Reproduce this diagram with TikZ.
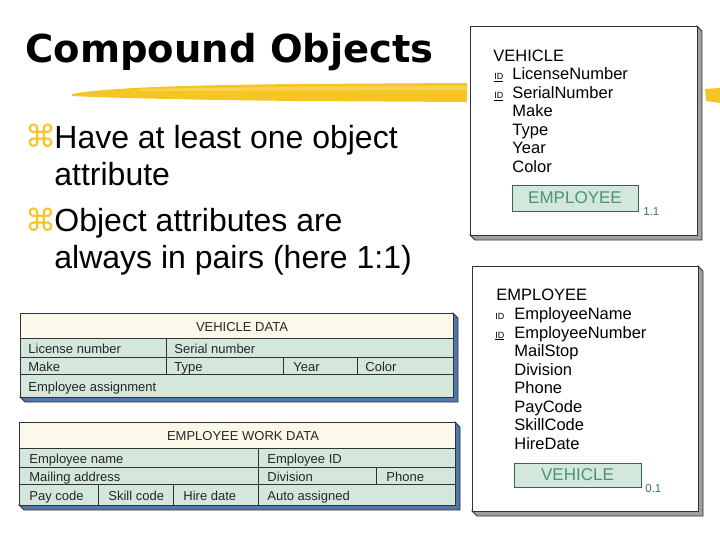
\documentclass[tikz,border=0pt]{standalone}
\usepackage{fontspec}
\setmainfont{Liberation Sans}
\newfontfamily\symfont{DejaVu Sans}
\usetikzlibrary{positioning, calc}
\definecolor{cyellow}{HTML}{F5C524}
\definecolor{cyellowlt}{HTML}{FADB6A}
\definecolor{cblue}{HTML}{5077AE}
\definecolor{cgreen}{HTML}{D4E7DC}
\definecolor{ccream}{HTML}{FCF9EA}
\definecolor{cteal}{HTML}{4A927A}
\definecolor{cline}{HTML}{333333}
\definecolor{cshade}{HTML}{A0A0A0}
\tikzset{
  every picture/.style={line width=0.8pt},
  title/.style={anchor=base west, inner sep=0pt, font=\symfont\bfseries\fontsize{38.5}{42}\selectfont},
  bullet/.style={anchor=base west, inner sep=0pt, text=cyellow, font=\symfont\fontsize{31}{34}\selectfont},
  point/.style={anchor=base west, inner sep=0pt, font=\fontsize{32}{36}\selectfont},
  cell/.style={anchor=west, inner sep=0pt, text height=14pt, text depth=2.5pt, text=black!85, font=\fontsize{13}{15}\selectfont},
  attr/.style={anchor=base west, inner sep=0pt, font=\fontsize{16.5}{18}\selectfont},
  idmark/.style={anchor=base west, inner sep=0pt, font=\fontsize{9}{10}\selectfont},
  refbox/.style={draw=cteal!70!black, fill=cgreen, inner sep=0pt, text=cteal, font=\fontsize{17}{19}\selectfont},
  degree/.style={anchor=base west, inner sep=0pt, text=cteal!80!black, font=\fontsize{11.5}{13}\selectfont},
}

\begin{document}
\begin{tikzpicture}[x=1pt, y=-1pt]
  \useasboundingbox (0,0) rectangle (720,540);
  % brush stroke under the title
  \fill[cyellow] (72,94) .. controls (110,87) and (200,85) .. (300,84) -- (467,83)
    -- (467,102) -- (300,101) .. controls (200,100) and (110,98) .. (72,96) -- cycle;
  \fill[cyellowlt, opacity=0.6] (140,89) .. controls (250,87) and (350,86) .. (467,86)
    -- (467,90) .. controls (350,90) and (250,91) .. (140,91) -- cycle;
  \fill[cyellow] (705,89) -- (720,88) -- (720,103) -- (706,101) -- cycle;
  \node[title] (ttl) at (25,63) {Compound Objects};
  % bullets
  \node[bullet] (b1) at (25,148) {⌘};
  \node[point] (p1) at (54,149) {Have at least one object};
  \node[point] (p1b) at (54,186) {attribute};
  \node[bullet] (b2) at (25,231) {⌘};
  \node[point] (p2) at (54,232) {Object attributes are};
  \node[point] (p2b) at (54,268) {always in pairs (here 1:1)};

  % vehicle data table
  \draw[cline, fill=cblue] (453,313) -- (458,318) -- (458,402) -- (25,402) -- (20,397) -- (453,397) -- cycle;
  \draw[cline, fill=ccream] (20,313) rectangle (453,338);
  \draw[cline, fill=cgreen] (20,338) rectangle (453,397);
  \draw[cline] (20,357) -- (453,357) (20,374) -- (453,374);
  \draw[cline] (166,338) -- (166,374) (283,357) -- (283,374) (357,357) -- (357,374);
  \node[cell, anchor=center] (vdhead) at (242,326) {VEHICLE DATA};
  \foreach \n/\x/\y/\t in {vd1/28/347.5/License number, vd2/174/347.5/Serial number,
                           vd3/28/365.5/Make, vd4/174/365.5/Type, vd5/293/365.5/Year,
                           vd6/365/365.5/Color, vd7/28/385.5/Employee assignment} {
    \node[cell] (\n) at (\x,\y) {\t};
  }

  % employee work data table
  \draw[cline, fill=cblue] (455,422) -- (460,427) -- (460,510) -- (24,510) -- (19,505) -- (455,505) -- cycle;
  \draw[cline, fill=ccream] (19,422) rectangle (455,448);
  \draw[cline, fill=cgreen] (19,448) rectangle (455,505);
  \draw[cline] (19,467) -- (455,467) (19,484) -- (455,484);
  \draw[cline] (258,448) -- (258,505) (376,467) -- (376,484) (98,484) -- (98,505) (173,484) -- (173,505);
  \node[cell, anchor=center] (ewhead) at (243,435) {EMPLOYEE WORK DATA};
  \foreach \n/\x/\y/\t in {ew1/29/457.5/Employee name, ew2/267/457.5/Employee ID,
                           ew3/29/475.5/Mailing address, ew4/267/475.5/Division, ew5/386/475.5/Phone,
                           ew6/29/494.5/Pay code, ew7/108/494.5/Skill code, ew8/183/494.5/Hire date,
                           ew9/267/494.5/Auto assigned} {
    \node[cell] (\n) at (\x,\y) {\t};
  }

  % VEHICLE object
  \draw[cline, fill=cshade] (697,26) -- (702,31) -- (702,240) -- (475,240) -- (470,235) -- (697,235) -- cycle;
  \draw[cline, fill=white] (470,26) rectangle (697,235);
  \node[attr] (vname) at (493,62) {VEHICLE};
  \node[idmark] (vid1) at (494,80) {\underline{ID}};
  \node[idmark] (vid2) at (494,99) {\underline{ID}};
  \foreach \n/\y/\t in {va1/80/LicenseNumber, va2/99/SerialNumber, va3/117/Make,
                        va4/136/Type, va5/154/Year, va6/173/Color} {
    \node[attr] (\n) at (512,\y) {\t};
  }
  \node[refbox, minimum width=126pt, minimum height=26pt] (vref) at (575,198) {EMPLOYEE};
  \node[degree] (vdeg) at (643,215) {1.1};

  % EMPLOYEE object
  \draw[cline, fill=cshade] (698,266) -- (703,271) -- (703,516) -- (477,516) -- (472,511) -- (698,511) -- cycle;
  \draw[cline, fill=white] (472,266) rectangle (698,511);
  \node[attr] (ename) at (496,300) {EMPLOYEE};
  \node[idmark] (eid1) at (495,319) {ID};
  \node[idmark] (eid2) at (495,338) {\underline{ID}};
  \foreach \n/\y/\t in {ea1/319/EmployeeName, ea2/338/EmployeeNumber, ea3/356/MailStop,
                        ea4/375/Division, ea5/393/Phone, ea6/412/PayCode,
                        ea7/430/SkillCode, ea8/449/HireDate} {
    \node[attr] (\n) at (514,\y) {\t};
  }
  \node[refbox, minimum width=127pt, minimum height=24pt] (eref) at (577.5,475) {VEHICLE};
  \node[degree] (edeg) at (645,492) {0.1};
\end{tikzpicture}
\end{document}
